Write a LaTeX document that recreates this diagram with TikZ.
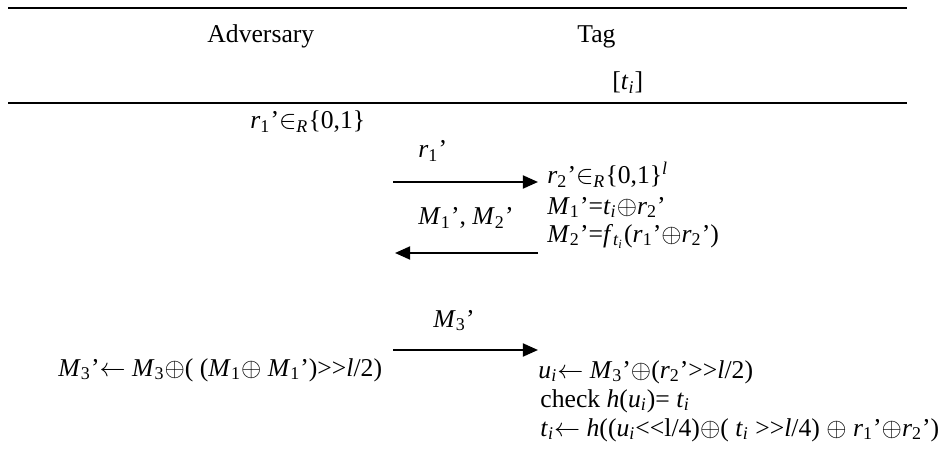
\documentclass[tikz,border=0pt]{standalone}
\usepackage{fontspec}
\setmainfont{Liberation Serif}
\usetikzlibrary{arrows.meta}
\newcommand{\ii}[1]{\textit{#1}}
\newcommand{\sbs}[1]{\textsubscript{#1}}
\newcommand{\pr}{’}
\newcommand{\xor}{$\oplus$}
\newcommand{\inr}{$\in$\sbs{\ii{R}}}
\newcommand{\shl}{<{}<}
\newcommand{\shr}{>{}>}
\newcommand{\lar}{$\leftarrow$}
\begin{document}
\begin{tikzpicture}[x=0.46pt,y=-0.46pt,
    txt/.style={inner sep=0pt,anchor=base west,font=\fontsize{11.8}{13.6}\selectfont},
    msg/.style={line width=1pt,-{Triangle[length=7pt,width=6pt]}},
    rule/.style={line width=1.2pt}]
  \useasboundingbox (0,0) rectangle (941,461);
  % header
  \draw[rule] (8,8) -- (907,8);
  \draw[rule] (8,103) -- (907,103);
  \node[txt] (adv) at (207,43) {Adversary};
  \node[txt] (tag) at (577,43) {Tag};
  \node[txt] (key) at (612,90) {[\ii{t}\sbs{\ii{i}}]};
  % first pass
  \node[txt] (rone) at (250,129) {\ii{r}\sbs{1}\pr\inr\{0,1\}};
  \node[txt] (lblone) at (418,158) {\ii{r}\sbs{1}\pr};
  \coordinate (aone) at (393,182);
  \coordinate (bone) at (538,182);
  \draw[msg] (aone) -- (bone);
  \node[txt] (rtwo) at (547,184) {\ii{r}\sbs{2}\pr\inr\{0,1\}\textsuperscript{\ii{l}}};
  \node[txt] (mone) at (547,214) {\ii{M}\sbs{1}\pr=\ii{t}\sbs{\ii{i}}\xor\ii{r}\sbs{2}\pr};
  \node[txt] (mtwo) at (547,242) {\ii{M}\sbs{2}\pr=\ii{f}\sbs{\ii{t}\sbs{\ii{i}}}(\ii{r}\sbs{1}\pr\xor\ii{r}\sbs{2}\pr)};
  \node[txt] (lbltwo) at (418,225) {\ii{M}\sbs{1}\pr, \ii{M}\sbs{2}\pr};
  \coordinate (atwo) at (538,253);
  \coordinate (btwo) at (395,253);
  \draw[msg] (atwo) -- (btwo);
  % second pass
  \node[txt] (lblthree) at (433,327) {\ii{M}\sbs{3}\pr};
  \coordinate (athree) at (393,350);
  \coordinate (bthree) at (538,350);
  \draw[msg] (athree) -- (bthree);
  \node[txt] (mthree) at (58,376) {\ii{M}\sbs{3}\pr\lar{} \ii{M}\sbs{3}\xor( (\ii{M}\sbs{1}\xor{} \ii{M}\sbs{1}\pr)\shr\ii{l}/2)};
  \node[txt] (ui) at (538,378) {\ii{u}\sbs{\ii{i}}\lar{} \ii{M}\sbs{3}\pr\xor(\ii{r}\sbs{2}\pr\shr\ii{l}/2)};
  \node[txt] (chk) at (540,407) {check \ii{h}(\ii{u}\sbs{\ii{i}})= \ii{t}\sbs{\ii{i}}};
  \node[txt] (upd) at (540,436) {\ii{t}\sbs{\ii{i}}\lar{} \ii{h}((\ii{u}\sbs{\ii{i}}\shl l/4)\xor( \ii{t}\sbs{\ii{i}} \shr\ii{l}/4) \xor{} \ii{r}\sbs{1}\pr\xor\ii{r}\sbs{2}\pr)};
\end{tikzpicture}
\end{document}
